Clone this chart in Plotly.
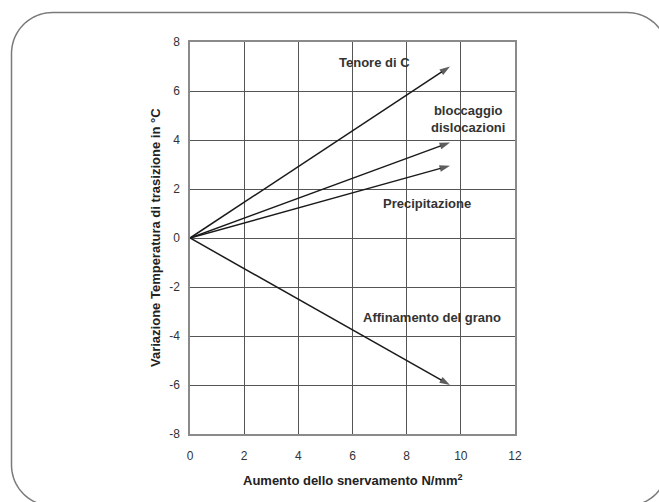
import math
import plotly.graph_objects as go

# Data
series_names = ["Tenore di C", "bloccaggio<br>dislocazioni", "Precipitazione", "Affinamento del grano"]
start_x = [0, 0, 0, 0]
start_y = [0, 0, 0, 0]
end_x = [9.6, 9.6, 9.6, 9.6]
end_y = [7.0, 3.9, 2.95, -6.0]
label_x = [6.8, 10.25, 8.75, 8.95]
label_y = [7.15, 4.85, 1.4, -3.25]

x_ticks = [0, 2, 4, 6, 8, 10, 12]
y_ticks = [-8, -6, -4, -2, 0, 2, 4, 6, 8]

W, H = 659, 502
ML, MT = 190, 42
PW, PH = 325, 392
MR, MB = W - ML - PW, H - MT - PH

fig = go.Figure()
for sx, sy, ex, ey in zip(start_x, start_y, end_x, end_y):
    fig.add_trace(go.Scatter(
        x=[sx, ex], y=[sy, ey], mode="lines+markers",
        line=dict(color="#1a1a1a", width=1.5),
        marker=dict(symbol="arrow", angleref="previous", size=[0, 11], color="#1a1a1a",
                    line=dict(width=0)),
        hoverinfo="skip", showlegend=False))

annotations = []
for name, lx, ly in zip(series_names, label_x, label_y):
    annotations.append(dict(x=lx, y=ly, xref="x", yref="y", text="<b>" + name + "</b>",
                            showarrow=False, font=dict(family="Liberation Sans, Arial", size=13, color="#333333"),
                            align="center"))

def px2paper(px, py):
    return (px - ML) / PW, (H - MB - py) / PH

annotations.append(dict(x=0.5, y=px2paper(0, 480)[1], xref="paper", yref="paper",
                        text="<b>Aumento dello snervamento N/mm<sup>2</sup></b>", showarrow=False,
                        font=dict(family="Liberation Sans, Arial", size=13, color="#222222"),
                        xanchor="center", yanchor="middle"))
annotations.append(dict(x=px2paper(155, 0)[0], y=px2paper(0, 238)[1], xref="paper", yref="paper",
                        text="<b>Variazione Temperatura di trasizione in °C</b>", showarrow=False,
                        textangle=-90,
                        font=dict(family="Liberation Sans, Arial", size=13, color="#222222"),
                        xanchor="center", yanchor="middle"))

# rounded border (pixel coordinates converted to paper)
L, T, R, B, r = 11.5, 12.5, 668, 506, 41
pts = []
def arc(cx, cy, a0, a1, n=20):
    for i in range(n + 1):
        t = math.radians(a0 + (a1 - a0) * i / n)
        pts.append((cx + r * math.cos(t), cy + r * math.sin(t)))
arc(L + r, T + r, 180, 270)
arc(R - r, T + r, 270, 360)
arc(R - r, B - r, 0, 90)
arc(L + r, B - r, 90, 180)
def P(x, y):
    a, b = px2paper(x, y)
    return f"{a:.5f},{b:.5f}"
path = "M " + " L ".join(P(x, y) for x, y in pts) + " Z"

fig.update_layout(
    width=W, height=H,
    margin=dict(l=ML, r=MR, t=MT, b=MB, autoexpand=False),
    paper_bgcolor="white", plot_bgcolor="white",
    showlegend=False,
    annotations=annotations,
    shapes=[dict(type="path", path=path, xref="paper", yref="paper",
                 line=dict(color="#7a7a7a", width=1.5), layer="below")],
    font=dict(family="Liberation Sans, Arial", size=12, color="#333333"),
)
fig.update_xaxes(range=[0, 12], tickvals=x_ticks, ticktext=[str(v) for v in x_ticks],
                 showgrid=True, gridcolor="#555555", gridwidth=1.3,
                 zeroline=False, showline=True, linecolor="#8a8a8a", linewidth=1.5, mirror=True,
                 ticks="outside", ticklen=10, tickcolor="rgba(0,0,0,0)",
                 tickfont=dict(size=12, color="#333333"))
fig.update_yaxes(range=[-8, 8], tickvals=y_ticks, ticktext=[str(v) for v in y_ticks],
                 showgrid=True, gridcolor="#555555", gridwidth=1.3,
                 zeroline=False, showline=True, linecolor="#8a8a8a", linewidth=1.5, mirror=True,
                 ticks="outside", ticklen=6, tickcolor="rgba(0,0,0,0)",
                 tickfont=dict(size=12, color="#333333"))

fig.write_html("out.html", config={"displayModeBar": False},
               post_script="document.body.style.margin='0';document.body.style.overflow='hidden';")
